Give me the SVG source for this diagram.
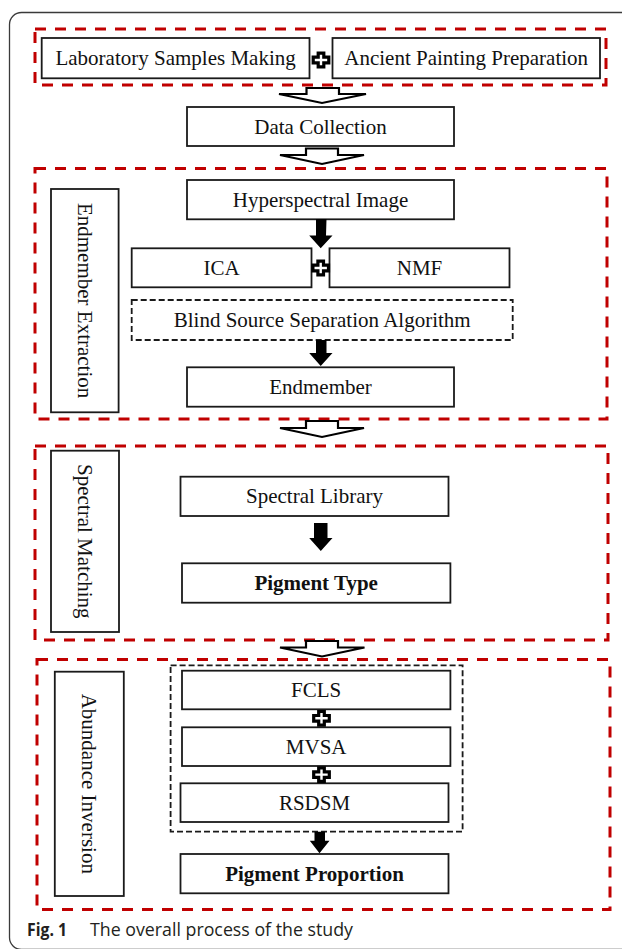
<svg xmlns="http://www.w3.org/2000/svg" xmlns:xlink="http://www.w3.org/1999/xlink" width="622" height="949" viewBox="0 0 622 949">
  <style>
    .box { fill: #ffffff; stroke: #1a1a1a; stroke-width: 1.8; }
    .dbox { fill: none; stroke: #1a1a1a; stroke-width: 1.8; stroke-dasharray: 6 3; }
    .stage { fill: none; stroke: #c00000; stroke-width: 3; stroke-dasharray: 11 9; }
    .lbl { font-family: "Liberation Serif", "Times New Roman", serif; font-size: 21px; fill: #111111; text-anchor: middle; }
    .bold { font-weight: bold; }
    .hollow { fill: #ffffff; stroke: #000000; stroke-width: 2.2; stroke-linejoin: miter; }
    .solid { fill: #000000; stroke: none; }
    .cap { font-family: "Open Sans", "Noto Sans", sans-serif; font-size: 18px; fill: #231f20; }
  </style>
  <defs>
    <!-- plus sign joining two side-by-side or stacked methods -->
    <path id="plus" d="M -2.8 -6.8 H 2.8 V -2.8 H 7.8 V 2.8 H 2.8 V 6.8 H -2.8 V 2.8 H -7.8 V -2.8 H -2.8 Z" fill="#ffffff" stroke="#000000" stroke-width="3.2"/>
  </defs>

  <!-- page frame -->
  <rect x="9.5" y="12.5" width="700" height="937" rx="12" ry="12" fill="none" stroke="#3a3a3a" stroke-width="1.3"/>

  <!-- stage frames -->
  <g id="stage-input">
    <rect class="stage" x="35" y="29" width="571" height="56"/>
  </g>
  <g id="stage-endmember">
    <rect class="stage" x="35" y="168.5" width="572" height="250.5"/>
  </g>
  <g id="stage-matching">
    <rect class="stage" x="35" y="446" width="573" height="194"/>
  </g>
  <g id="stage-abundance">
    <rect class="stage" x="37" y="659.5" width="573" height="250"/>
  </g>

  <!-- nodes -->
  <g id="lab-samples">
    <rect class="box" x="41.7" y="38" width="267.8" height="40.3"/>
    <text class="lbl" x="175.6" y="65">Laboratory Samples Making</text>
  </g>
  <g id="ancient-painting">
    <rect class="box" x="332.5" y="38" width="267.5" height="40.3"/>
    <text class="lbl" x="466.2" y="65">Ancient Painting Preparation</text>
  </g>
  <g id="data-collection">
    <rect class="box" x="187" y="107" width="267" height="39"/>
    <text class="lbl" x="320.5" y="133.5">Data Collection</text>
  </g>

  <g id="label-endmember">
    <rect class="box" x="51" y="189" width="67.6" height="223.3"/>
    <text class="lbl" transform="translate(84.8 300.6) rotate(90)" y="7">Endmember Extraction</text>
  </g>
  <g id="hyperspectral">
    <rect class="box" x="187" y="180" width="267" height="39.3"/>
    <text class="lbl" x="320.5" y="206.7">Hyperspectral Image</text>
  </g>
  <g id="ica">
    <rect class="box" x="131.7" y="248.3" width="179.8" height="39"/>
    <text class="lbl" x="221.6" y="274.8">ICA</text>
  </g>
  <g id="nmf">
    <rect class="box" x="329.5" y="248.3" width="180" height="39"/>
    <text class="lbl" x="419.5" y="274.8">NMF</text>
  </g>
  <g id="bss">
    <rect class="dbox" x="131.7" y="300" width="381" height="40"/>
    <text class="lbl" x="322.2" y="327">Blind Source Separation Algorithm</text>
  </g>
  <g id="endmember">
    <rect class="box" x="187" y="367.3" width="267" height="39.4"/>
    <text class="lbl" x="320.5" y="394">Endmember</text>
  </g>

  <g id="label-matching">
    <rect class="box" x="51" y="450.7" width="68" height="181.3"/>
    <text class="lbl" transform="translate(85 541.3) rotate(90)" y="7">Spectral Matching</text>
  </g>
  <g id="spectral-library">
    <rect class="box" x="180.5" y="476.7" width="268" height="39.3"/>
    <text class="lbl" x="314.5" y="503.3">Spectral Library</text>
  </g>
  <g id="pigment-type">
    <rect class="box" x="182" y="563.3" width="268.4" height="39.4"/>
    <text class="lbl bold" x="316.2" y="590">Pigment Type</text>
  </g>

  <g id="label-abundance">
    <rect class="box" x="54.8" y="671.7" width="69" height="224.3"/>
    <text class="lbl" transform="translate(89.3 783.8) rotate(90)" y="7">Abundance Inversion</text>
  </g>
  <g id="unmixing-methods">
    <rect class="dbox" x="170.6" y="665.3" width="292" height="166.4"/>
  </g>
  <g id="fcls">
    <rect class="box" x="182" y="670.7" width="268.4" height="38.6"/>
    <text class="lbl" x="316.2" y="697">FCLS</text>
  </g>
  <g id="mvsa">
    <rect class="box" x="182" y="727.3" width="268.4" height="38.7"/>
    <text class="lbl" x="316.2" y="753.6">MVSA</text>
  </g>
  <g id="rsdsm">
    <rect class="box" x="180.5" y="783.3" width="268" height="38.7"/>
    <text class="lbl" x="314.5" y="809.6">RSDSM</text>
  </g>
  <g id="pigment-proportion">
    <rect class="box" x="180.5" y="854" width="268" height="39.3"/>
    <text class="lbl bold" x="314.5" y="880.6">Pigment Proportion</text>
  </g>

  <!-- connectors -->
  <g id="connectors">
    <!-- hollow stage arrows -->
    <polygon class="hollow" points="306.5,88 339,88 339,94 366,94 322,103 279,94 306.5,94"/>
    <polygon class="hollow" points="306,148.5 338,148.5 338,155 364,155 322,164 280,155 306,155"/>
    <polygon class="hollow" points="306,421 338,421 338,428 364,428 322,437 280,428 306,428"/>
    <polygon class="hollow" points="306,641 338,641 338,647.5 364.5,647.5 322,656.5 280,647.5 306,647.5"/>

    <!-- solid flow arrows -->
    <polygon class="solid" points="316,219 326.5,219 326,235.5 332.5,235.5 320.7,248.3 309.2,235.5 316,235.5"/>
    <polygon class="solid" points="316,340 326.5,340 326.5,353 332.5,353 320.7,366 309.2,353 316,353"/>
    <polygon class="solid" points="314,523 327.5,523 327.5,538 332.5,538 320.8,551 309.2,538 314,538"/>
    <polygon class="solid" points="314.5,831.7 325,831.7 325,840.7 329.5,840.7 319.5,853.3 309.8,840.7 314.5,840.7"/>

    <!-- plus joins -->
    <use xlink:href="#plus" x="321" y="60"/>
    <use xlink:href="#plus" x="320.7" y="268"/>
    <use xlink:href="#plus" x="321.5" y="718.3"/>
    <use xlink:href="#plus" x="321.5" y="774.6"/>
  </g>

  <!-- caption -->
  <text class="cap" x="27" y="935.7" font-weight="bold" textLength="40" lengthAdjust="spacingAndGlyphs">Fig. 1</text>
  <text class="cap" x="90" y="935.7" textLength="263" lengthAdjust="spacingAndGlyphs">The overall process of the study</text>
</svg>
